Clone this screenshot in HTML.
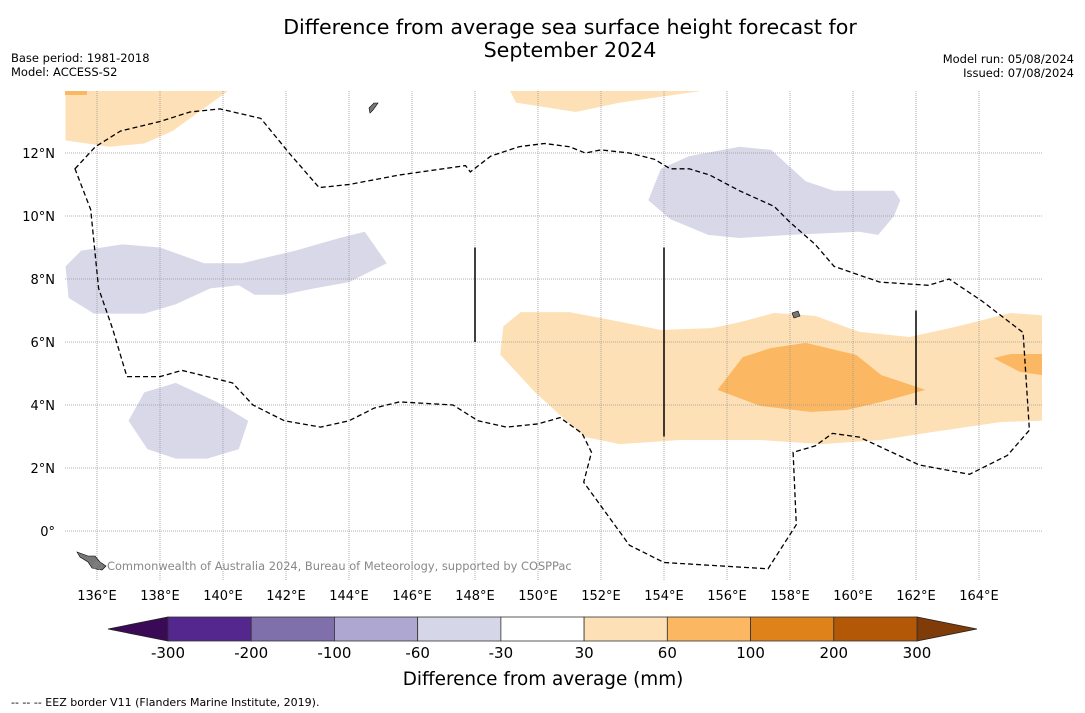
<!DOCTYPE html>
<html><head><meta charset="utf-8"><style>
body{margin:0;background:#fff;font-family:"DejaVu Sans","Liberation Sans",sans-serif;}
svg{display:block}
</style></head><body>
<svg id="c" width="1085" height="713" viewBox="0 0 1085 713">
<rect width="1085" height="713" fill="#fff"/>
<text x="570" y="34" font-size="20.6" text-anchor="middle">Difference from average sea surface height forecast for</text>
<text x="570" y="57" font-size="20.6" text-anchor="middle">September 2024</text>
<text x="11" y="62" font-size="11.5">Base period: 1981-2018</text>
<text x="11" y="76" font-size="11.5">Model: ACCESS-S2</text>
<text x="1074" y="63" font-size="11.5" text-anchor="end">Model run: 05/08/2024</text>
<text x="1074" y="77" font-size="11.5" text-anchor="end">Issued: 07/08/2024</text>
<g id="map"></g>
<g id="cbar"></g>
<text x="543" y="685" font-size="18.4" text-anchor="middle">Difference from average (mm)</text>
<text x="11" y="706" font-size="11">--  --  -- EEZ border V11 (Flanders Marine Institute, 2019).</text>
</svg>
<script>
const lonTicks=[136,138,140,142,144,146,148,150,152,154,156,158,160,162,164];
const latTicks=[0,2,4,6,8,10,12];
const cbLevels=[-300,-200,-100,-60,-30,30,60,100,200,300];
const cbColors=["#54278f","#7f70ab","#aea7d1","#d6d6e9","#ffffff","#fee0b6","#fbb761","#e0821a","#b35806"];
const orangeLight1=[[135,14],[140.2,14],[138.4,12.7],[137.5,12.3],[136.4,12.2],[135,12.4]];
const orangeLight2=[[149.1,14],[155.4,14],[152.6,13.6],[151.2,13.3],[149.3,13.6]];
const orangeLight3=[[148.8,5.6],[148.9,6.5],[149.45,6.95],[151,6.95],[152.3,6.7],[153.9,6.38],[155.5,6.44],[156.4,6.63],[157.5,6.92],[158.8,6.83],[160.2,6.32],[161.8,6.16],[163.25,6.48],[165,6.92],[166,6.85],[166,3.5],[164.7,3.46],[162.5,3.14],[160.9,2.89],[159,2.76],[157.05,2.89],[154.5,2.89],[152.6,2.76],[151.5,2.98],[150.7,3.68],[149.9,4.41]];
const orangeMid=[[155.7,4.48],[156.5,5.52],[157.4,5.81],[158.5,5.97],[160.1,5.59],[160.9,4.95],[162.3,4.48],[160.9,4.1],[159.8,3.84],[158.65,3.78],[157.05,3.97]];
const orangeMid2=[[164.46,5.49],[165,5.62],[166,5.62],[166,4.95],[165.3,5.05]];
const lav1=[[153.5,10.5],[153.9,11.5],[154.8,11.9],[156.4,12.2],[157.4,12.1],[158.5,11.1],[159.4,10.8],[161.3,10.8],[161.5,10.5],[161.3,10],[160.8,9.4],[160.2,9.5],[158,9.4],[156.4,9.3],[155.4,9.4],[154.2,9.9]];
const lav2=[[135,8.4],[135.5,8.9],[136.8,9.1],[138,9],[139.4,8.5],[140.6,8.5],[142.3,8.9],[143.7,9.3],[144.5,9.5],[145.2,8.5],[144,7.9],[142.9,7.7],[141.9,7.5],[141,7.5],[140.5,7.8],[139.6,7.7],[138.5,7.2],[137.5,6.9],[135.9,6.9],[135.1,7.4]];
const lav3=[[137,3.5],[137.5,4.4],[138.5,4.7],[139.8,4.1],[140.8,3.5],[140.5,2.6],[139.5,2.3],[138.5,2.3],[137.6,2.6]];
const eez=[[135.3,11.5],[135.95,12.2],[136.75,12.7],[138,13],[138.95,13.3],[139.9,13.4],[141.2,13.1],[142.1,12],[143.05,10.9],[144,11],[145.6,11.3],[147.7,11.6],[147.85,11.4],[148.5,11.9],[149.4,12.2],[150.2,12.3],[151,12.2],[151.5,12],[152,12.1],[152.9,12],[153.7,11.8],[154.2,11.5],[154.8,11.5],[155.45,11.3],[156.4,10.8],[157.5,10.3],[158,9.8],[158.8,9.1],[159.4,8.4],[160.85,7.9],[162.4,7.8],[163.05,8],[164.1,7.3],[165.4,6.3],[165.6,3.2],[164.9,2.4],[163.7,1.8],[162.1,2.1],[160.8,2.7],[160.2,2.98],[159.35,3.1],[158.8,2.7],[158.1,2.5],[158.2,0.2],[157.3,-1.2],[154,-1],[152.9,-0.45],[151.45,1.55],[151.7,2.5],[151.4,3.1],[150.7,3.6],[150,3.4],[149,3.3],[148.1,3.5],[147.3,4],[145.6,4.1],[144.8,3.9],[144,3.5],[143.1,3.3],[141.95,3.5],[140.95,4],[140.3,4.7],[139.5,4.9],[138.7,5.1],[138,4.9],[136.95,4.9],[136.5,6.4],[136.05,7.7],[135.8,10.2]];
const vlines=[[148,6,9],[154,3,9],[162,4,7]];

const NS="http://www.w3.org/2000/svg";
const L=65,R=1042,T=91,B=580;
const X=lon=>97+(lon-136)*31.5;
const Y=lat=>531-lat*31.5;
const map=document.getElementById('map');
function mk(tag,attrs,parent){const e=document.createElementNS(NS,tag);for(const k in attrs)e.setAttribute(k,attrs[k]);parent.appendChild(e);return e;}
const clip=mk('clipPath',{id:'mc'},map);mk('rect',{x:L,y:T,width:R-L,height:B-T},clip);
const g=mk('g',{'clip-path':'url(#mc)'},map);
function poly(pts,fill,name,extra){const p=mk('polygon',Object.assign({points:pts.map(q=>X(q[0]).toFixed(1)+','+Y(q[1]).toFixed(1)).join(' '),fill:fill},extra||{}),g);

return p;}
poly(orangeLight1,'#fee0b6','contour-positive-30-60');
mk('rect',{x:65,y:91,width:22,height:4,fill:'#fbb761'},g);
poly(orangeLight2,'#fee0b6','contour-positive-30-60');
poly(orangeLight3,'#fee0b6','contour-positive-30-60');
poly(orangeMid,'#fbb761','contour-positive-60-100');
poly(orangeMid2,'#fbb761','contour-positive-60-100');
poly(lav1,'#d8d8e9','contour-negative-30-60');
poly(lav2,'#d8d8e9','contour-negative-30-60');
poly(lav3,'#d8d8e9','contour-negative-30-60');
lonTicks.forEach(v=>{const l=mk('line',{x1:X(v),x2:X(v),y1:T,y2:B,stroke:'#999','stroke-width':0.8,'stroke-dasharray':'1,1'},g);


const t=mk('text',{x:X(v),y:600,'font-size':13,'text-anchor':'middle'},map);t.textContent=v+'°E';

});
latTicks.forEach(v=>{const l=mk('line',{x1:L,x2:R,y1:Y(v),y2:Y(v),stroke:'#999','stroke-width':0.8,'stroke-dasharray':'1,1'},g);


const t=mk('text',{x:55,y:Y(v)+5,'font-size':13,'text-anchor':'end'},map);t.textContent=v===0?'0°':v+'°N';

});
poly(eez,'none','eez-border',{stroke:'#000','stroke-width':1.3,'stroke-dasharray':'5,3'});
vlines.forEach(v=>{const l=mk('line',{x1:X(v[0]),x2:X(v[0]),y1:Y(v[2]),y2:Y(v[1]),stroke:'#000','stroke-width':1.5},g);

});
const isl=mk('path',{d:'M77,552 L88,556 L95,556 L100,562 L106,566 L102,570 L92,568 L88,562 L80,557Z M369,108 L374,103 L378,103 L373,110 L370,113Z M792,313 L798,311 L800,316 L794,318Z',fill:'#777',stroke:'#000','stroke-width':0.6},g);


const cp=mk('text',{x:92,y:570,'font-size':11.4,fill:'#888'},map);cp.textContent='© Commonwealth of Australia 2024, Bureau of Meteorology, supported by COSPPac';


const cb=document.getElementById('cbar');
const cx0=168,cx1=917,cy=617,ch=24;
const CX=i=>cx0+(cx1-cx0)*i/(cbLevels.length-1);
const t1=mk('polygon',{points:`108,${cy+ch/2} ${cx0},${cy} ${cx0},${cy+ch}`,fill:'#3a0a57',stroke:'#222','stroke-width':0.8},cb);


const t2=mk('polygon',{points:`977,${cy+ch/2} ${cx1},${cy} ${cx1},${cy+ch}`,fill:'#7f3b08',stroke:'#222','stroke-width':0.8},cb);


cbColors.forEach((c,i)=>{const r=mk('rect',{x:CX(i),y:cy,width:CX(i+1)-CX(i),height:ch,fill:c,stroke:'#333','stroke-width':0.8},cb);

});
cbLevels.forEach((v,i)=>{const t=mk('text',{x:CX(i),y:658,'font-size':15,'text-anchor':'middle'},cb);t.textContent=v;

});
</script>
</body></html>
